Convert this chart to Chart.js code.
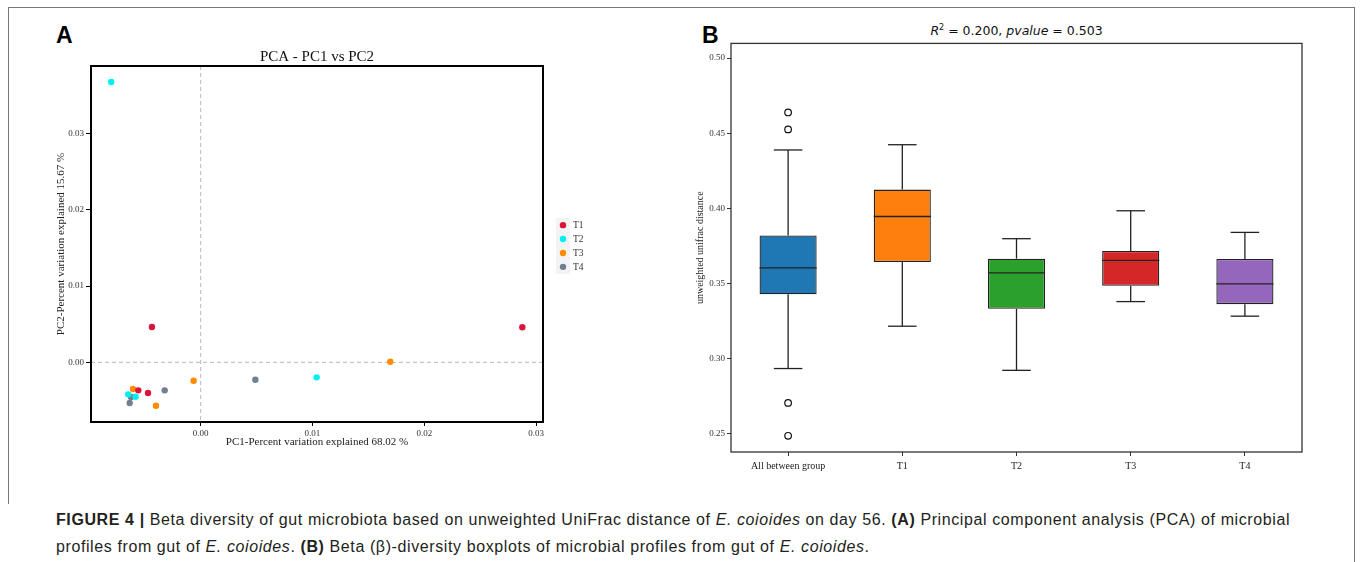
<!DOCTYPE html>
<html>
<head>
<meta charset="utf-8">
<script src="https://cdn.jsdelivr.net/npm/chart.js@4.4.0/dist/chart.umd.min.js"></script>
<style>
  html, body { margin: 0; padding: 0; background: #fff; }
  body { width: 1360px; height: 562px; position: relative; overflow: hidden; font-family: "Liberation Sans", Arial, sans-serif; }
  .rule { position: absolute; background: #777; }
  .panel-label { position: absolute; font: bold 23px "Liberation Sans", Arial, sans-serif; color: #000; line-height: 23px; }
  #wrapA { position: absolute; left: 40px; top: 40px; }
  #wrapB { position: absolute; left: 680px; top: 36px; }
  #titleB { position: absolute; left: 731px; width: 571px; top: 23px; text-align: center; font: 12.5px "DejaVu Sans", sans-serif; color: #111; white-space: nowrap; }
  #caption { position: absolute; left: 56px; top: 506px; font-size: 16px; letter-spacing: 0.6px; line-height: 27px; color: #231f20; white-space: nowrap; }
</style>
</head>
<body>
<div class="rule" style="left:8px; top:7px; width:1347px; height:1px;"></div>
<div class="rule" style="left:8px; top:7px; width:1px; height:497px;"></div>
<div class="rule" style="left:1354px; top:7px; width:1px; height:555px;"></div>
<div class="panel-label" style="left:56px; top:24px;">A</div>
<div class="panel-label" style="left:702px; top:24px;">B</div>
<div id="wrapA"><canvas id="pca" width="560" height="420"></canvas></div>
<div id="titleB"><i>R</i><sup style="font-size:8px">2</sup> = 0.200, <i>pvalue</i> = 0.503</div>
<div id="wrapB"><canvas id="box" width="640" height="444"></canvas></div>
<div id="caption"><b>FIGURE 4 |</b> Beta diversity of gut microbiota based on unweighted UniFrac distance of <i>E. coioides</i> on day 56. <b>(A)</b> Principal component analysis (PCA) of microbial<br>profiles from gut of <i>E. coioides</i>. <b>(B)</b> Beta (β)-diversity boxplots of microbial profiles from gut of <i>E. coioides</i>.</div>

<script>
// PCA samples, [PC1, PC2] per group
const pcaGroups = ['T1', 'T2', 'T3', 'T4'];
const pcaColors = ['#dc143c', '#00f0f0', '#ff8c00', '#708090'];
const pcaT1 = [[-0.00436, 0.00463], [0.02877, 0.00459], [-0.00471, -0.00402], [-0.00558, -0.00367]];
const pcaT2 = [[-0.00800, 0.03674], [0.01037, -0.00197], [-0.00648, -0.00420], [-0.00582, -0.00451]];
const pcaT3 = [[0.01696, 0.00008], [-0.00063, -0.00241], [-0.00606, -0.00350], [-0.00400, -0.00569]];
const pcaT4 = [[0.00489, -0.00228], [-0.00322, -0.00367], [-0.00623, -0.00455], [-0.00635, -0.00533]];

// boxplot summary
const boxLabels = ['All between group', 'T1', 'T2', 'T3', 'T4'];
const boxColors = ['#1f77b4', '#ff7f0e', '#2ca02c', '#d62728', '#9467bd'];
const boxMin = [0.2932, 0.3214, 0.2920, 0.3378, 0.3281];
const boxQ1 = [0.3427, 0.3642, 0.3330, 0.3483, 0.3361];
const boxMedian = [0.3602, 0.3945, 0.3569, 0.3653, 0.3496];
const boxQ3 = [0.3819, 0.4124, 0.3664, 0.3715, 0.3662];
const boxMax = [0.4388, 0.4423, 0.3797, 0.3983, 0.3839];
const outlierGroup = ['All between group', 'All between group', 'All between group', 'All between group'];
const outlierValue = [0.4638, 0.4525, 0.2703, 0.2484];

const serif = '"Liberation Serif", "Times New Roman", serif';

// box round the plot area
const frame = {
  id: 'frame',
  afterDraw(chart, args, opts) {
    const { ctx, chartArea: a } = chart;
    ctx.save();
    ctx.strokeStyle = opts.color;
    ctx.lineWidth = opts.width;
    ctx.strokeRect(a.left, a.top, a.right - a.left, a.bottom - a.top);
    ctx.restore();
  }
};

// dashed lines through zero
const zeroLines = {
  id: 'zeroLines',
  beforeDatasetsDraw(chart) {
    const { ctx, chartArea: a, scales } = chart;
    const x0 = scales.x.getPixelForValue(0);
    const y0 = scales.y.getPixelForValue(0);
    ctx.save();
    ctx.strokeStyle = '#b8b8b8';
    ctx.lineWidth = 1;
    ctx.setLineDash([4, 3]);
    ctx.beginPath();
    ctx.moveTo(x0, a.top); ctx.lineTo(x0, a.bottom);
    ctx.moveTo(a.left, y0); ctx.lineTo(a.right, y0);
    ctx.stroke();
    ctx.restore();
  }
};

// small legend to the right of the PCA plot
const sideLegend = {
  id: 'sideLegend',
  afterDraw(chart) {
    const { ctx, chartArea: a } = chart;
    const step = 13.9;
    const x = a.right + 20;
    const y0 = (a.top + a.bottom) / 2 + 2 - 1.5 * step;
    ctx.save();
    ctx.fillStyle = '#f3f3f3';
    ctx.fillRect(x - 7, y0 - 7, 14, 3 * step + 14);
    chart.data.datasets.forEach((ds, i) => {
      const y = y0 + i * step;
      ctx.fillStyle = ds.backgroundColor;
      ctx.beginPath();
      ctx.arc(x, y, 3.2, 0, Math.PI * 2);
      ctx.fill();
      ctx.fillStyle = '#333';
      ctx.font = '9.5px ' + serif;
      ctx.textBaseline = 'middle';
      ctx.fillText(ds.label, x + 10, y + 0.5);
    });
    ctx.restore();
  }
};

const pcaData = [pcaT1, pcaT2, pcaT3, pcaT4];

new Chart(document.getElementById('pca'), {
  type: 'scatter',
  data: {
    datasets: pcaGroups.map((g, i) => ({
      label: g,
      data: pcaData[i].map(p => ({ x: p[0], y: p[1] })),
      backgroundColor: pcaColors[i],
      borderWidth: 0,
      pointRadius: 3.2,
      pointHoverRadius: 3.2
    }))
  },
  options: {
    responsive: false,
    animation: false,
    events: [],
    layout: { padding: { left: 11, right: 57, top: 0, bottom: 7 } },
    plugins: {
      legend: { display: false },
      tooltip: { enabled: false },
      title: {
        display: true, text: 'PCA - PC1 vs PC2', fullSize: false, color: '#111',
        font: { family: serif, size: 15, weight: 'normal' }, padding: { top: 8, bottom: 0 }
      },
      frame: { color: '#000', width: 2 }
    },
    scales: {
      x: {
        type: 'linear', min: -0.00981, max: 0.03062,
        border: { display: false },
        grid: { drawOnChartArea: false, tickLength: 4, tickColor: '#000' },
        ticks: { stepSize: 0.01, includeBounds: false, padding: 2, color: '#333', maxRotation: 0,
          font: { family: serif, size: 9 }, callback: v => v.toFixed(2) },
        title: { display: true, text: 'PC1-Percent variation explained 68.02 %', color: '#222',
          font: { family: serif, size: 11 }, padding: { top: 0, bottom: 4 } },
        afterFit: s => { s.height = 31; }
      },
      y: {
        type: 'linear', min: -0.00782, max: 0.03883,
        border: { display: false },
        grid: { drawOnChartArea: false, tickLength: 5, tickColor: '#000' },
        ticks: { stepSize: 0.01, includeBounds: false, padding: 2, color: '#333',
          font: { family: serif, size: 9 }, callback: v => v.toFixed(2) },
        title: { display: true, text: 'PC2-Percent variation explained 15.67 %', color: '#222',
          font: { family: serif, size: 11 }, padding: { top: 4, bottom: 0 } },
        afterFit: s => { s.width = 40; }
      }
    }
  },
  plugins: [frame, zeroLines, sideLegend]
});

// whiskers, caps and medians, placed with the chart's scales
const boxParts = {
  id: 'boxParts',
  afterDatasetsDraw(chart) {
    const { ctx, scales: { y } } = chart;
    const meta = chart.getDatasetMeta(0);
    const line = (x1, y1, x2, y2) => { ctx.beginPath(); ctx.moveTo(x1, y1); ctx.lineTo(x2, y2); ctx.stroke(); };
    ctx.save();
    ctx.strokeStyle = '#222';
    ctx.lineWidth = 1.3;
    boxLabels.forEach((lab, i) => {
      const bar = meta.data[i];
      const cx = bar.x, w = bar.width;
      const yHi = y.getPixelForValue(boxMax[i]);
      const yLo = y.getPixelForValue(boxMin[i]);
      line(cx, y.getPixelForValue(boxQ3[i]), cx, yHi);
      line(cx, y.getPixelForValue(boxQ1[i]), cx, yLo);
      line(cx - w / 4, yHi, cx + w / 4, yHi);
      line(cx - w / 4, yLo, cx + w / 4, yLo);
      const ym = y.getPixelForValue(boxMedian[i]);
      line(cx - w / 2, ym, cx + w / 2, ym);
    });
    ctx.restore();
  }
};

new Chart(document.getElementById('box'), {
  type: 'bar',
  data: {
    labels: boxLabels,
    datasets: [
      {
        type: 'bar',
        data: boxQ1.map((q, i) => [q, boxQ3[i]]),
        backgroundColor: boxColors,
        borderColor: '#222',
        borderWidth: 1.3,
        borderSkipped: false,
        barPercentage: 0.5,
        categoryPercentage: 1
      },
      {
        type: 'line',
        data: outlierValue.map((v, i) => ({ x: outlierGroup[i], y: v })),
        showLine: false,
        pointStyle: 'circle',
        pointRadius: 3.3,
        pointBackgroundColor: 'rgba(0,0,0,0)',
        pointBorderColor: '#111',
        pointBorderWidth: 1.2
      }
    ]
  },
  options: {
    responsive: false,
    animation: false,
    events: [],
    layout: { padding: { left: 10, right: 18, top: 7, bottom: 0 } },
    plugins: {
      legend: { display: false },
      tooltip: { enabled: false },
      frame: { color: '#333', width: 1.3 }
    },
    scales: {
      x: {
        offset: true,
        border: { display: false },
        grid: { offset: false, drawOnChartArea: false, tickLength: 4, tickColor: '#333' },
        ticks: { padding: 4, color: '#222', maxRotation: 0, font: { family: serif, size: 10 } },
        afterFit: s => { s.height = 28; }
      },
      y: {
        type: 'linear', min: 0.2376, max: 0.5098,
        border: { display: false },
        grid: { drawOnChartArea: false, tickLength: 4, tickColor: '#333' },
        ticks: { stepSize: 0.05, includeBounds: false, padding: 2, color: '#333',
          font: { family: serif, size: 9 }, callback: v => v.toFixed(2) },
        title: { display: true, text: 'unweighted unifrac distance', color: '#222',
          font: { family: serif, size: 10 }, padding: { top: 4, bottom: 0 } },
        afterFit: s => { s.width = 41; }
      }
    }
  },
  plugins: [frame, boxParts]
});
</script>
</body>
</html>
